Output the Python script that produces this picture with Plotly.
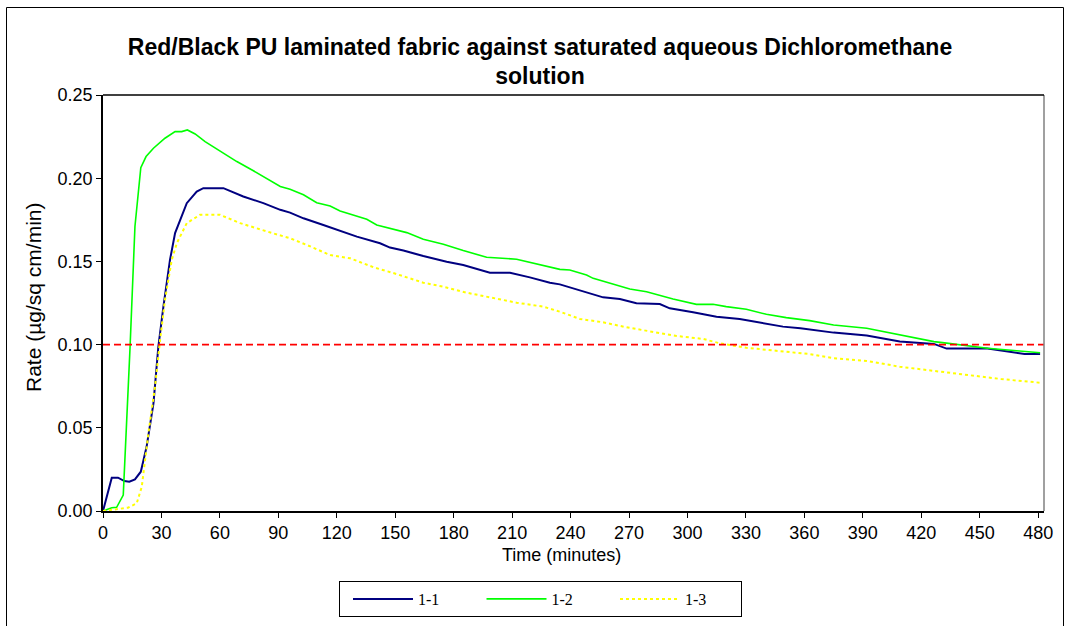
import plotly.graph_objects as go

# ---- data ----
t_11 = [0, 4.5, 7.7, 11, 13.5, 16.4, 19.4, 22.4, 25.9, 28.4, 31, 34.4, 37, 43, 48.1, 51.5, 61.8, 72, 82.3, 91,
        96, 102.9, 113.1, 121.7, 130.3, 142.2, 147.3, 154.2, 164.4, 176.4, 184.9, 198.6, 208.9, 219.1, 229.4,
        234.5, 244.8, 256.7, 265.3, 273.8, 285.8, 290.9, 302.9, 314.9, 326.8, 337.1, 349, 358, 375, 392, 409,
        426.5, 433, 454, 464, 473, 481]
v_11 = [0.0, 0.020, 0.020, 0.018, 0.0176, 0.019, 0.0236, 0.0387, 0.0647, 0.0987, 0.1228, 0.151, 0.167, 0.185,
        0.192, 0.194, 0.194, 0.189, 0.185, 0.181, 0.1793, 0.1759, 0.1719, 0.1683, 0.1649, 0.1609, 0.1583, 0.1565,
        0.1532, 0.1498, 0.1478, 0.1432, 0.1432, 0.1404, 0.1372, 0.1362, 0.1324, 0.1284, 0.1274, 0.1248, 0.1244,
        0.1218, 0.1194, 0.1168, 0.1154, 0.1132, 0.1108, 0.1098, 0.1072, 0.1054, 0.1018, 0.1004, 0.0976, 0.0976,
        0.0958, 0.0944, 0.0944]

t_12 = [0, 4.5, 7, 10.4, 13.9, 16.4, 19.4, 22.1, 25.9, 31.8, 37, 40.4, 43.3, 47.3, 52.4, 61.8, 68.7, 77.2, 84.1,
        91, 96, 102.9, 109.7, 116.6, 121.7, 135.4, 140.5, 147.3, 155.9, 164.4, 174.7, 184.9, 196.9, 212.3, 222.6,
        234.5, 239.6, 248.2, 251.6, 260.2, 270.4, 279, 292.6, 304.6, 313.1, 319.9, 330.2, 340.5, 350.7, 362.7,
        375, 392, 409, 426.5, 433, 444, 454, 469, 481]
v_12 = [0.0, 0.002, 0.0022, 0.0096, 0.0987, 0.171, 0.2063, 0.213, 0.218, 0.224, 0.228, 0.228, 0.229, 0.2266,
        0.222, 0.2153, 0.210, 0.2045, 0.200, 0.195, 0.1933, 0.190, 0.1853, 0.1833, 0.1803, 0.1753, 0.1719, 0.1699,
        0.1673, 0.1633, 0.1603, 0.1565, 0.1525, 0.1513, 0.1484, 0.1452, 0.1448, 0.1418, 0.1398, 0.1368, 0.1334,
        0.1318, 0.1274, 0.1242, 0.1242, 0.1228, 0.1212, 0.1182, 0.1162, 0.1144, 0.1118, 0.1098, 0.1058, 0.1018,
        0.1009, 0.0992, 0.0978, 0.0963, 0.0951]

t_13 = [0, 12.8, 17.3, 19.9, 23.3, 26.7, 29.3, 31.8, 35.3, 37.9, 43, 49.8, 60.1, 70.4, 84.1, 96, 104.6, 116.6,
        126.8, 138.8, 150.7, 164.4, 174.7, 186.7, 198.6, 212.3, 226, 234.5, 244.8, 256.7, 268.7, 282.4, 294.4,
        308, 316.6, 330.2, 347.3, 362.7, 375, 392, 409, 426.5, 444, 461, 481]
v_13 = [0.0, 0.002, 0.0046, 0.0146, 0.0467, 0.0747, 0.1028, 0.1268, 0.151, 0.161, 0.173, 0.178, 0.178, 0.173,
        0.168, 0.1639, 0.1599, 0.1538, 0.1519, 0.1465, 0.1424, 0.1372, 0.1348, 0.1312, 0.1284, 0.1252, 0.1228,
        0.1198, 0.1154, 0.1134, 0.1104, 0.1078, 0.1052, 0.1034, 0.1008, 0.0981, 0.0963, 0.0943, 0.0918, 0.0902,
        0.0867, 0.0843, 0.0817, 0.0793, 0.0771]

threshold = 0.10
x_ticks = list(range(0, 481, 30))
y_ticks = [0.00, 0.05, 0.10, 0.15, 0.20, 0.25]

title_text = "Red/Black PU laminated fabric against saturated aqueous Dichloromethane<br>solution"
x_title = "Time (minutes)"
y_title = "Rate (µg/sq cm/min)"

# ---- figure ----
W, H = 1066, 626
L, R, T, B = 103, 22, 95, 115
pw, ph = W - L - R, H - T - B

def px_x(p):
    return (p - L) / pw

def px_y(p):
    return (H - B - p) / ph

fig = go.Figure()
fig.add_trace(go.Scatter(x=t_11, y=v_11, mode="lines", name="1-1",
                         line=dict(color="#000080", width=2)))
fig.add_trace(go.Scatter(x=t_12, y=v_12, mode="lines", name="1-2",
                         line=dict(color="#00FF00", width=1.6)))
fig.add_trace(go.Scatter(x=t_13, y=v_13, mode="lines", name="1-3",
                         line=dict(color="#FFFF00", width=2, dash="3px,3px")))

fig.add_shape(type="line", xref="paper", yref="y", x0=0, x1=1, y0=threshold, y1=threshold,
              line=dict(color="#FF0000", width=1.6, dash="7px,4px"))
# plot-area right border (grey)
fig.add_shape(type="line", xref="paper", yref="paper", x0=1, x1=1, y0=0, y1=1,
              line=dict(color="#808080", width=1.5))
# plot-area top border
fig.add_shape(type="line", xref="paper", yref="paper", x0=0, x1=1, y0=1, y1=1,
              line=dict(color="#000000", width=1.5))
# chart outer border
fig.add_shape(type="rect", xref="paper", yref="paper",
              x0=px_x(6.5), x1=px_x(1063.5), y0=px_y(640), y1=px_y(7.5),
              line=dict(color="#000000", width=1), fillcolor="rgba(0,0,0,0)", layer="below")

font_tick = dict(family="Liberation Sans, Arial, sans-serif", size=18, color="#000000")
font_xt = dict(family="Liberation Sans, Arial, sans-serif", size=18, color="#000000")
font_yt = dict(family="Liberation Sans, Arial, sans-serif", size=21, color="#000000")

fig.update_layout(
    width=W, height=H,
    margin=dict(l=L, r=R, t=T, b=B, autoexpand=False),
    paper_bgcolor="white", plot_bgcolor="white",
    title=dict(text="<b>" + title_text + "</b>", x=540 / W, xref="container", xanchor="center",
               y=1 - 54.5 / H, yref="container", yanchor="middle",
               font=dict(family="Liberation Sans, Arial, sans-serif", size=23, color="#000000")),
    showlegend=True,
    legend=dict(orientation="h", x=px_x(339), xanchor="left", y=px_y(581), yanchor="top",
                bordercolor="#000000", borderwidth=1, bgcolor="white", indentation=8,
                font=dict(family="Liberation Serif, Times New Roman, serif", size=16, color="#000000"),
                entrywidth=50.5, entrywidthmode="pixels", itemwidth=60),
    xaxis=dict(range=[0, 483], tickvals=x_ticks, ticks="outside", ticklen=5, tickcolor="#000000",
               showline=True, linecolor="#000000", linewidth=1.5, showgrid=False, zeroline=False,
               tickfont=font_tick),
    yaxis=dict(range=[0, 0.25], tickvals=y_ticks, tickformat=".2f", ticks="outside", ticklen=5,
               tickcolor="#000000", showline=True, linecolor="#000000", linewidth=1.5,
               showgrid=False, zeroline=False, tickfont=font_tick),
    annotations=[
        dict(text=x_title, xref="paper", yref="paper", x=px_x(561), y=px_y(555),
             xanchor="center", yanchor="middle", showarrow=False, font=font_xt),
        dict(text=y_title, xref="paper", yref="paper", x=px_x(33), y=px_y(298),
             xanchor="center", yanchor="middle", textangle=-90, showarrow=False, font=font_yt),
    ],
)

fig.write_html("out.html", post_script="document.body.style.margin='0px';",
               config={"displayModeBar": False})
